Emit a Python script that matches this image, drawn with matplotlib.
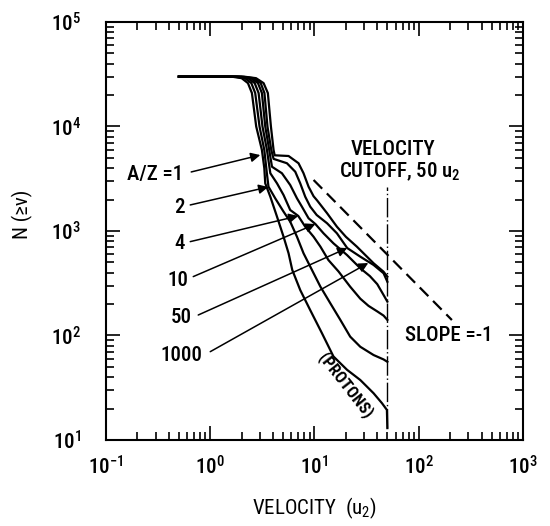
import matplotlib
matplotlib.use('Agg')
import matplotlib.pyplot as plt
from matplotlib.ticker import LogLocator, NullFormatter

plt.rcParams['font.family'] = ['Roboto Condensed', 'DejaVu Sans']
plt.rcParams['font.weight'] = 'medium'
plt.rcParams['mathtext.fontset'] = 'custom'
plt.rcParams['mathtext.rm'] = 'Roboto Condensed:weight=medium'
plt.rcParams['mathtext.default'] = 'regular'

# cumulative number N(>v) vs velocity, one curve per A/Z
v_az1 = [0.5, 1.6, 2.0, 2.3, 2.51, 2.76, 3.13, 3.3, 3.37, 3.77, 4.37, 5.05, 5.64, 6.12,
         7.3, 9.1, 11.8, 15.2, 20.5, 27.5, 36.9, 44.4, 49.5, 50]
n_az1 = [30000, 30000, 29000, 26000, 20900, 10000, 5960, 4000, 2857, 2128, 1371, 881, 612, 424,
         272, 175, 105, 63, 47, 37.5, 28, 22.5, 19.4, 13]

v_az2 = [0.5, 1.7, 2.15, 2.48, 2.70, 2.97, 3.30, 3.5, 3.62, 4.2, 5.05, 5.85, 6.79, 7.85,
         9.45, 11.4, 14.2, 17.7, 22.0, 27.5, 36.9, 46.0, 50]
n_az2 = [30000, 30000, 29000, 26000, 20900, 10000, 5960, 3500, 2655, 2055, 1531, 1228, 881, 612,
         424, 293, 203, 141, 97.5, 78, 65, 59, 56]

v_az4 = [0.5, 1.8, 2.3, 2.67, 2.91, 3.17, 3.50, 3.77, 4.37, 5.05, 5.85, 6.99, 8.15, 9.8,
         11.4, 13.6, 17.0, 22.0, 27.5, 33.0, 40.0, 46.0, 50]
n_az4 = [30000, 30000, 29000, 26000, 20900, 10000, 5960, 3570, 2857, 2208, 1588, 1393, 1099, 881,
         708, 527, 410, 293, 225, 192, 170, 155, 141]

v_az10 = [0.5, 1.9, 2.45, 2.87, 3.13, 3.37, 3.68, 3.91, 4.87, 5.85, 6.79, 7.57, 8.77, 10.2,
          12.2, 15.2, 20.5, 27.5, 34.0, 40.0, 46.0, 50]
n_az10 = [30000, 30000, 29000, 26000, 20900, 10000, 5960, 4120, 3570, 2754, 2055, 1710, 1324, 1166,
          951, 762, 589, 440, 370, 310, 244, 211]

v_az50 = [0.5, 2.0, 2.6, 3.05, 3.31, 3.54, 3.85, 4.05, 5.44, 6.54, 7.3, 8.15, 9.1, 10.5,
          13.2, 16.4, 20.6, 27.5, 36.9, 46.0, 50]
n_az50 = [30000, 30000, 29000, 26000, 20900, 10000, 5960, 4900, 4450, 3690, 2857, 2128, 1710, 1422,
          1186, 951, 687, 568, 473, 394, 327]

v_az1000 = [0.5, 2.1, 2.75, 3.25, 3.57, 3.82, 4.05, 4.15, 5.64, 7.03, 7.85, 8.77, 9.8, 10.6,
            13.2, 16.4, 20.0, 25.5, 36.9, 45.9, 50]
n_az1000 = [30000, 30000, 29000, 26000, 20900, 10000, 5960, 5300, 5220, 4450, 3570, 2655, 2150, 1960,
            1480, 1100, 880, 708, 491, 408, 366]

# slope = -1 reference line and velocity cutoff
v_slope = [9.8, 208]
n_slope = [3077, 140.6]
v_cutoff = 50
n_cutoff = [13, 2655]

fig = plt.figure(figsize=(5.5, 5.26), dpi=100)
ax = fig.add_axes([0.1927, 0.1635, 0.7582, 0.7947])

for v, n in [(v_az1, n_az1), (v_az2, n_az2), (v_az4, n_az4),
             (v_az10, n_az10), (v_az50, n_az50), (v_az1000, n_az1000)]:
    ax.plot(v, n, color='k', lw=1.6, solid_joinstyle='round')

ax.plot(v_slope, n_slope, color='k', lw=1.6, ls=(0, (5.5, 3)))
ax.plot([v_cutoff, v_cutoff], n_cutoff, color='k', lw=1.0, ls=(0, (14, 2, 1, 2)))

ax.set_xscale('log')
ax.set_yscale('log')
ax.set_xlim(0.1, 1000)
ax.set_ylim(10, 1e5)

for axis in (ax.xaxis, ax.yaxis):
    axis.set_major_locator(LogLocator(base=10, numticks=10))
    axis.set_minor_locator(LogLocator(base=10, subs=range(2, 10), numticks=20))
    axis.set_minor_formatter(NullFormatter())

ax.tick_params(which='both', direction='in', top=True, right=True, width=1.2, colors='k')
ax.tick_params(which='major', length=10, labelsize=15)
ax.tick_params(which='minor', length=6)
ax.tick_params(axis='x', which='major', pad=11)
ax.tick_params(axis='y', which='major', pad=18)
for s in ax.spines.values():
    s.set_linewidth(1.5)

ax.set_xlabel('VELOCITY  (u$_2$)', fontsize=15, labelpad=12)
ax.set_ylabel('N (\u2265v)', fontsize=15)
ax.yaxis.set_label_coords(-0.175, 0.54)

# A/Z labels with arrows
labels = ['A/Z =1', '2', '4', '10', '50', '1000']
label_pos = [(0.551, 3508), (0.575, 1660), (0.575, 767), (0.615, 333), (0.672, 150), (0.838, 63.7)]
arrow_tail = [(0.657, 3672), (0.643, 1775), (0.643, 791), (0.687, 366), (0.767, 157), (1.0, 70)]
arrow_tip = [(3.02, 5330), (3.60, 2637), (6.99, 1393), (10.2, 1166), (20.6, 687), (32.8, 494)]
for lab, p, t, h in zip(labels, label_pos, arrow_tail, arrow_tip):
    ax.text(p[0], p[1], lab, fontsize=15, ha='right', va='center')
    ax.annotate('', xy=h, xytext=t,
                arrowprops=dict(arrowstyle='-|>', color='k', lw=1.1,
                                mutation_scale=14, shrinkA=0, shrinkB=0))

ax.text(57, 5960, 'VELOCITY', fontsize=15, ha='center', va='center')
ax.text(66, 3672, 'CUTOFF, 50 u$_2$', fontsize=15, ha='center', va='center')
ax.text(192, 101, 'SLOPE =-1', fontsize=15, ha='center', va='center')
ax.text(19.7, 32.9, '(PROTONS)', fontsize=12, fontweight='bold', rotation=-52,
        ha='center', va='center')

fig.savefig('out.png', dpi=100)
